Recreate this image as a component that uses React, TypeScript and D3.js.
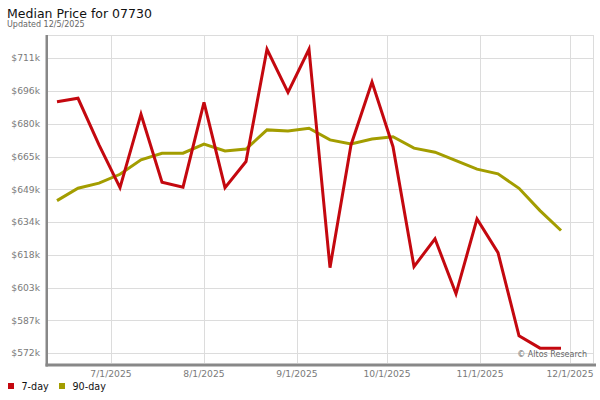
import { useEffect, useRef } from "react";
import * as d3 from "d3";

// Median price chart (Altos style): weekly 7-day vs 90-day medians, in $k.

const WIDTH = 600;
const HEIGHT = 400;
const PLOT = { left: 48, right: 593, top: 35, bottom: 363 };

const weeks = [
  "2025-06-13", "2025-06-20", "2025-06-27", "2025-07-04", "2025-07-11",
  "2025-07-18", "2025-07-25", "2025-08-01", "2025-08-08", "2025-08-15",
  "2025-08-22", "2025-08-29", "2025-09-05", "2025-09-12", "2025-09-19",
  "2025-09-26", "2025-10-03", "2025-10-10", "2025-10-17", "2025-10-24",
  "2025-10-31", "2025-11-07", "2025-11-14", "2025-11-21", "2025-11-28",
];

const sevenDay = [
  690.8, 692.4, 670.4, 650.3, 684.9, 652.9, 650.5, 690.5, 650.3, 662.6,
  715.5, 695.2, 715.5, 612.6, 670.4, 700.0, 669.6, 613.1, 626.2, 600.3,
  635.6, 619.7, 580.5, 574.7, 574.7,
];

const ninetyDay = [
  644.2, 650.0, 652.4, 656.6, 663.4, 666.5, 666.5, 670.8, 667.6, 668.5,
  677.5, 677.0, 678.3, 672.8, 670.9, 673.2, 674.3, 668.9, 667.0, 663.0,
  659.0, 656.8, 650.0, 639.5, 630.1,
];

const yTickValues = [572.3, 587.74, 603.18, 618.62, 634.06, 649.5, 664.94, 680.38, 695.82, 711.26];
const yTickLabels = ["$572k", "$587k", "$603k", "$618k", "$634k", "$649k", "$665k", "$680k", "$696k", "$711k"];

const xTickDates = ["2025-07-01", "2025-08-01", "2025-09-01", "2025-10-01", "2025-11-01", "2025-12-01"];
const xTickLabels = ["7/1/2025", "8/1/2025", "9/1/2025", "10/1/2025", "11/1/2025", "12/1/2025"];

const RED = "#c4080f";
const OLIVE = "#a39d00";
const FONT = "'DejaVu Sans', Verdana, sans-serif";

const parse = (s: string) => new Date(s + "T00:00:00");

export default function App() {
  const svgRef = useRef<SVGSVGElement>(null);

  useEffect(() => {
    const svg = d3.select(svgRef.current);
    svg.selectAll("*").remove();

    const x = d3
      .scaleTime()
      .domain([new Date(2025, 5, 10, 0), new Date(2025, 11, 8, 16)])
      .range([PLOT.left, PLOT.right]);
    const y = d3.scaleLinear().domain([567.7, 722.2]).range([PLOT.bottom, PLOT.top]);

    // fondo del área
    svg.append("rect").attr("width", WIDTH).attr("height", HEIGHT).attr("fill", "#fff");

    // grid horizontal + borde superior
    const grid = svg.append("g").attr("stroke", "#dcdcdc").attr("stroke-width", 1);
    yTickValues.forEach((v) => {
      const yy = Math.round(y(v)) + 0.5;
      grid.append("line").attr("x1", PLOT.left).attr("x2", PLOT.right).attr("y1", yy).attr("y2", yy);
    });
    xTickDates.forEach((d) => {
      const xx = Math.round(x(parse(d))) + 0.5;
      grid.append("line").attr("x1", xx).attr("x2", xx).attr("y1", PLOT.top).attr("y2", PLOT.bottom);
    });
    grid.append("line").attr("x1", PLOT.left).attr("x2", PLOT.right).attr("y1", PLOT.top + 0.5).attr("y2", PLOT.top + 0.5);
    grid.append("line").attr("x1", PLOT.right + 0.5).attr("x2", PLOT.right + 0.5).attr("y1", PLOT.top).attr("y2", PLOT.bottom);

    // ejes gruesos grises (izquierda y abajo)
    svg.append("rect").attr("x", PLOT.left - 2.5).attr("y", PLOT.top).attr("width", 2.5).attr("height", PLOT.bottom - PLOT.top + 3.5).attr("fill", "#888");
    svg.append("rect").attr("x", PLOT.left - 2.5).attr("y", PLOT.bottom + 0.5).attr("width", PLOT.right - PLOT.left + 5.5).attr("height", 3).attr("fill", "#888");

    // etiquetas Y
    svg
      .append("g")
      .selectAll("text")
      .data(yTickValues)
      .join("text")
      .attr("x", 40)
      .attr("y", (v) => y(v))
      .attr("dy", "0.35em")
      .attr("text-anchor", "end")
      .attr("font-family", FONT)
      .attr("font-size", 9.2)
      .attr("fill", "#7a7a7a")
      .text((_, i) => yTickLabels[i]);

    // etiquetas X
    svg
      .append("g")
      .selectAll("text")
      .data(xTickDates)
      .join("text")
      .attr("x", (d) => x(parse(d)))
      .attr("y", 376.5)
      .attr("text-anchor", "middle")
      .attr("font-family", FONT)
      .attr("font-size", 9.2)
      .attr("fill", "#7a7a7a")
      .text((_, i) => xTickLabels[i]);

    const series = [
      { values: ninetyDay, color: OLIVE, width: 3 },
      { values: sevenDay, color: RED, width: 3 },
    ];
    series.forEach((s) => {
      const line = d3
        .line<number>()
        .x((_, i) => x(parse(weeks[i])))
        .y((v) => y(v));
      svg
        .append("path")
        .datum(s.values)
        .attr("fill", "none")
        .attr("stroke", s.color)
        .attr("stroke-width", s.width)
        .attr("stroke-linejoin", "miter")
        .attr("d", line);
    });

    // créditos
    svg
      .append("text")
      .attr("x", 587)
      .attr("y", 356.5)
      .attr("text-anchor", "end")
      .attr("font-family", FONT)
      .attr("font-size", 8)
      .attr("fill", "#666")
      .text("© Altos Research");

    // títulos
    svg
      .append("text")
      .attr("x", 7)
      .attr("y", 17.5)
      .attr("font-family", FONT)
      .attr("font-size", 12.5)
      .attr("fill", "#111")
      .text("Median Price for 07730");
    svg
      .append("text")
      .attr("x", 7)
      .attr("y", 27)
      .attr("font-family", FONT)
      .attr("font-size", 8)
      .attr("fill", "#666")
      .text("Updated 12/5/2025");

    // leyenda
    const legend = [
      { label: "7-day", color: RED, x: 8 },
      { label: "90-day", color: OLIVE, x: 59 },
    ];
    legend.forEach((l) => {
      svg.append("rect").attr("x", l.x).attr("y", 383).attr("width", 6).attr("height", 6).attr("fill", l.color);
      svg
        .append("text")
        .attr("x", l.x + 13.5)
        .attr("y", 389.5)
        .attr("font-family", FONT)
        .attr("font-size", 9.6)
        .attr("fill", "#111")
        .text(l.label);
    });
  }, []);

  return (
    <div style={{ position: "absolute", left: 0, top: 0 }}>
      <svg ref={svgRef} width={WIDTH} height={HEIGHT} role="img" aria-label="Median Price for 07730" />
    </div>
  );
}
